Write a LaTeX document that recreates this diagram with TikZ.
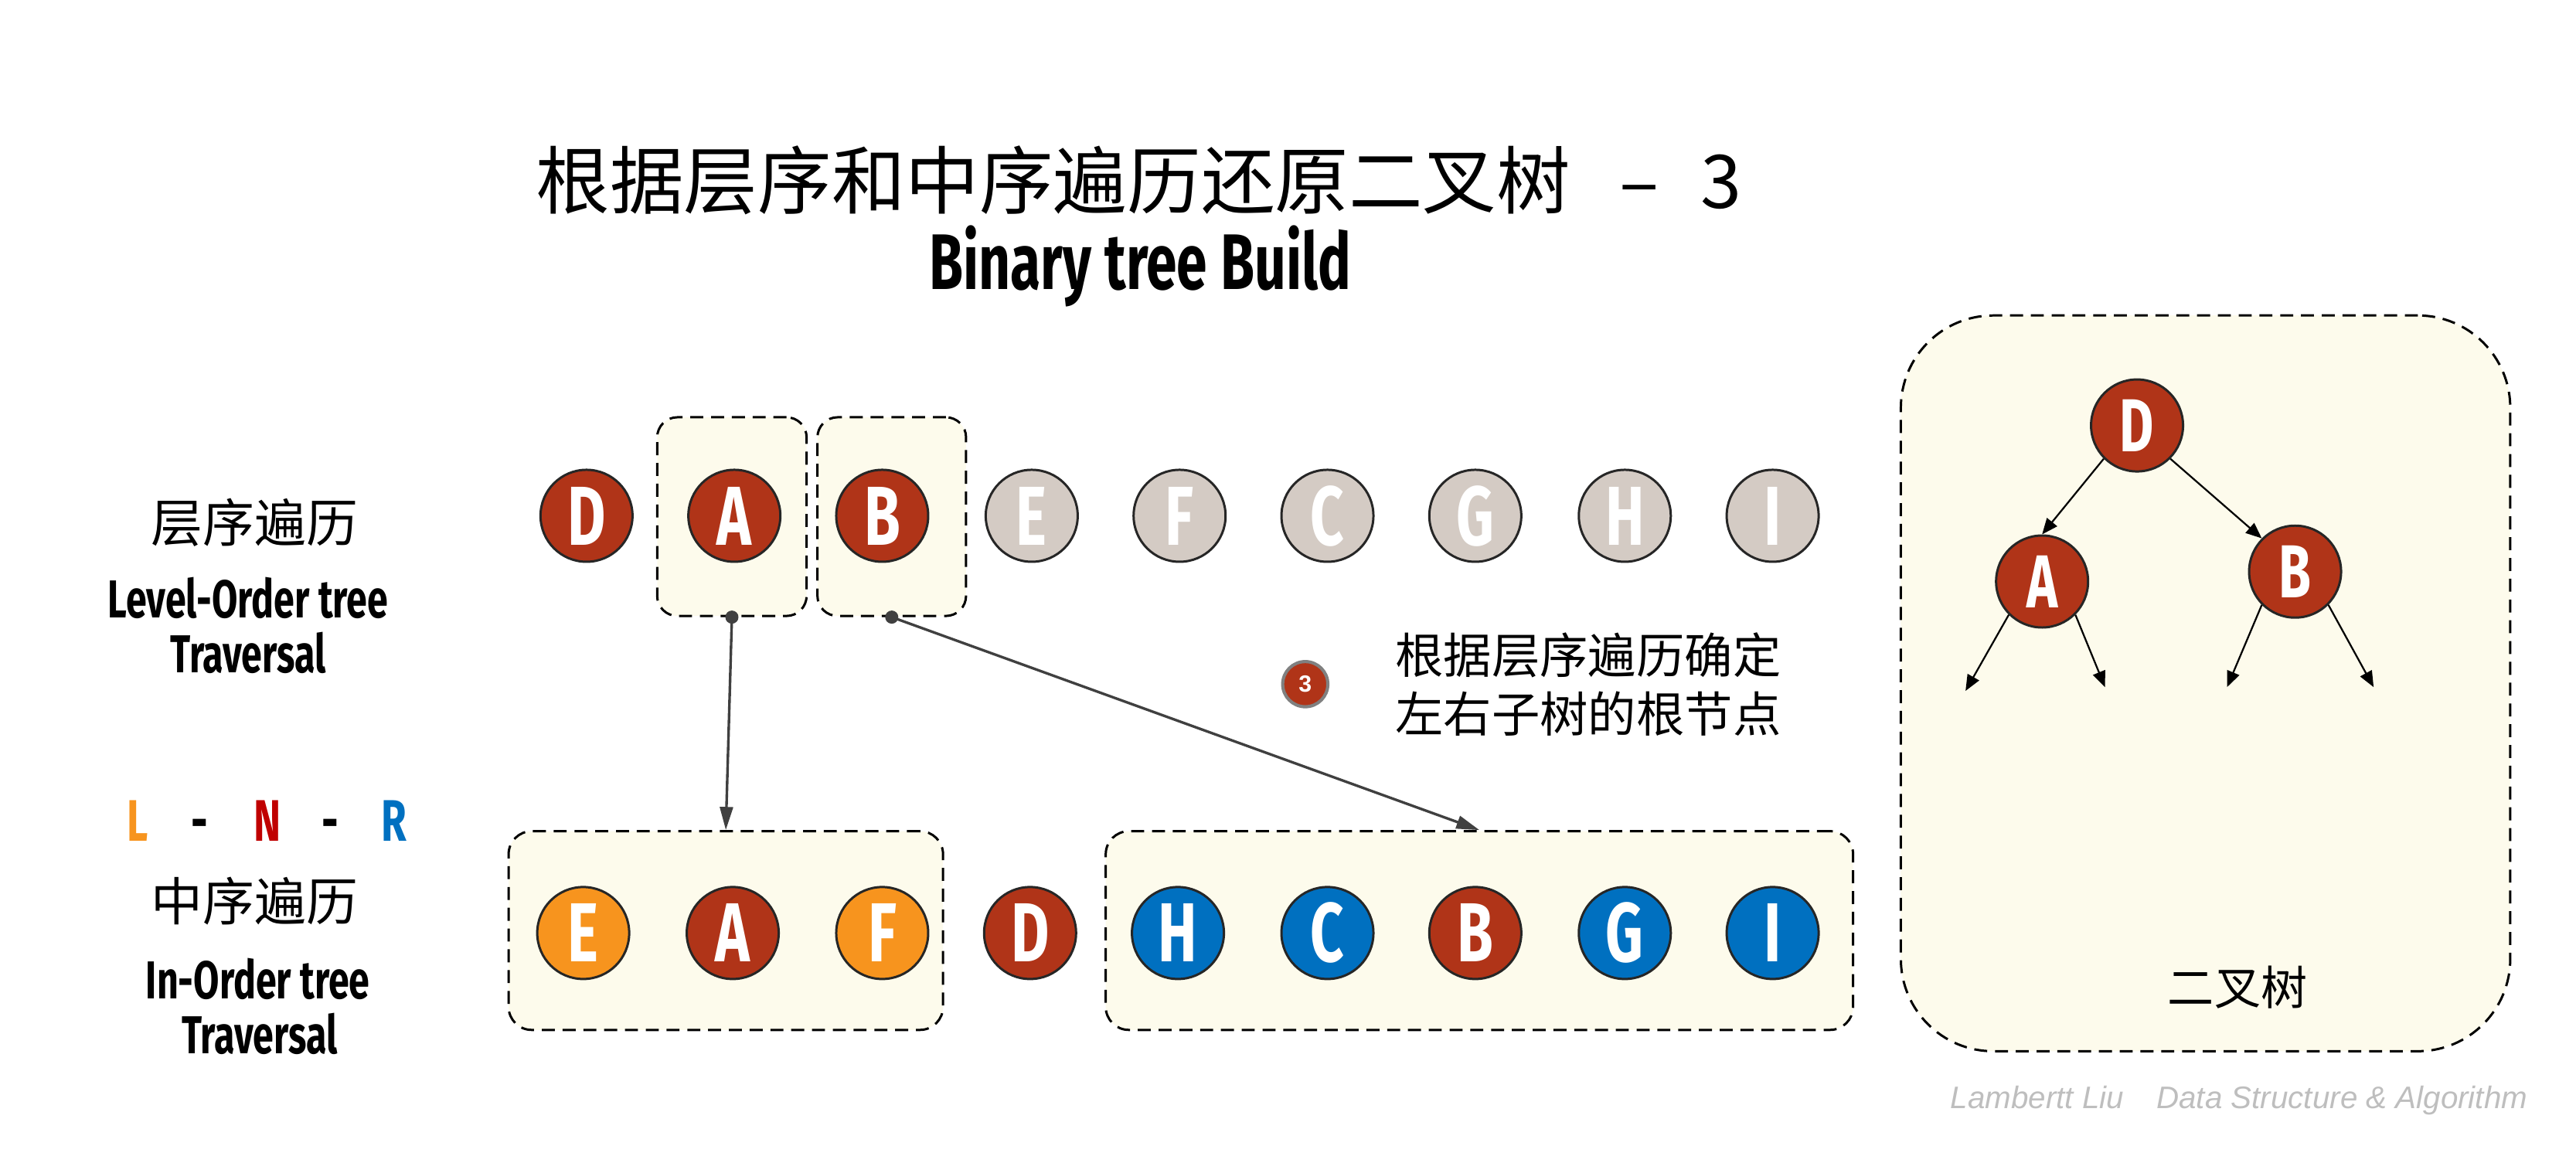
\documentclass[tikz,border=0pt]{standalone}
\usepackage{fontspec}
\usetikzlibrary{arrows.meta}
\newfontfamily\cjk{Noto Sans CJK SC}
\newfontfamily\condfont[FakeStretch=0.7]{Fira Sans}
\newfontfamily\markfont{Liberation Sans}
\definecolor{nodered}{RGB}{176,52,24}
\definecolor{nodegrey}{RGB}{212,203,196}
\definecolor{nodeorange}{RGB}{247,148,30}
\definecolor{nodeblue}{RGB}{0,112,192}
\definecolor{ballline}{RGB}{38,38,38}
\definecolor{cream}{RGB}{253,251,236}
\definecolor{connector}{RGB}{64,64,64}
\definecolor{markgrey}{RGB}{190,190,190}
\definecolor{lnrred}{RGB}{192,0,0}
\begin{document}
\begin{tikzpicture}[x=0.02cm,y=-0.02cm,
  ball/.style={circle, draw=ballline, line width=0.8pt, minimum size=1.12cm, inner sep=0pt,
    text=white, font=\condfont\bfseries\fontsize{29}{29}\selectfont},
  redball/.style={ball, fill=nodered},
  greyball/.style={ball, fill=nodegrey},
  orangeball/.style={ball, fill=nodeorange},
  blueball/.style={ball, fill=nodeblue},
  treeball/.style={redball, font=\condfont\bfseries\fontsize{26}{26}\selectfont},
  grpbox/.style={draw=black, fill=cream, line width=0.8pt, dash pattern=on 4.5pt off 2.7pt,
    inner sep=0pt, rounded corners=7pt},
  conn/.style={draw=connector, line width=0.9pt, -{Triangle[length=8pt,width=4.5pt]}},
  tedge/.style={draw=black, line width=0.6pt, -{Triangle[length=5.5pt,width=4.5pt]}},
  cjklabel/.style={font=\cjk\fontsize{17.9}{20}\selectfont, inner sep=0pt},
  condlabel/.style={font=\condfont\bfseries\fontsize{18.5}{20}\selectfont, inner sep=0pt, anchor=base},
  lnrlabel/.style={condlabel, font=\condfont\bfseries\fontsize{20.3}{22}\selectfont},
]
\useasboundingbox (0,0) rectangle (1568,708);

% titles
\node[font=\cjk\fontsize{25.6}{28}\selectfont, anchor=west, inner sep=0pt] (title) at (326,110)
  {根据层序和中序遍历还原二叉树\hspace{0.6cm}–\hspace{0.5cm}3};
\node[font=\condfont\bfseries\fontsize{27.3}{30}\selectfont, anchor=base, inner sep=0pt] (subtitle) at (694,176)
  {Binary tree Build};

% row captions
\node[cjklabel] (lvlcn) at (155,318) {层序遍历};
\node[condlabel] (lvlen1) at (151,376) {Level-Order tree};
\node[condlabel] (lvlen2) at (151,409.5) {Traversal};
\node[lnrlabel, text=nodeorange] (lnrL) at (84,512) {L};
\node[lnrlabel] (lnrd1) at (121.5,512) {-};
\node[lnrlabel, text=lnrred] (lnrN) at (162.7,512) {N};
\node[lnrlabel] (lnrd2) at (200.8,512) {-};
\node[lnrlabel, text=nodeblue] (lnrR) at (240,512) {R};
\node[cjklabel] (incn) at (155,548.5) {中序遍历};
\node[condlabel] (inen1) at (157,608) {In-Order tree};
\node[condlabel] (inen2) at (158,641.4) {Traversal};

% group boxes
\node[grpbox, minimum width=1.82cm, minimum height=2.42cm] (abox) at (445.5,314.5) {};
\node[grpbox, minimum width=1.81cm, minimum height=2.42cm] (bbox) at (542.8,314.5) {};
\node[grpbox, minimum width=5.29cm, minimum height=2.42cm, rounded corners=8pt] (lbox) at (441.8,566.5) {};
\node[grpbox, minimum width=9.10cm, minimum height=2.42cm, rounded corners=8pt] (rbox) at (900.5,566.5) {};
\node[grpbox, minimum width=7.42cm, minimum height=8.96cm, rounded corners=32pt] (treebox) at (1342.5,416) {};

% level-order sequence
\foreach \n/\x/\s in {D/357/redball, A/447/redball, B/537/redball, E/628/greyball, F/718/greyball,
                      C/808/greyball, G/898/greyball, H/989/greyball, I/1079/greyball}
  \node[\s] (l\n) at (\x,314) {\n};

% in-order sequence
\foreach \n/\x/\s in {E/355/orangeball, A/446/redball, F/537/orangeball, D/627/redball, H/717/blueball,
                      C/808/blueball, B/898/redball, G/989/blueball, I/1079/blueball}
  \node[\s] (i\n) at (\x,568) {\n};

% subtree roots point into the in-order halves
\draw[conn] (abox.south) -- (lbox.north);
\draw[conn] (bbox.south) -- (rbox.north);
\fill[connector] (abox.south) circle[radius=4];
\fill[connector] (bbox.south) circle[radius=4];

% step note
\node[circle, fill=nodered, draw=gray, line width=1.1pt, minimum size=0.55cm, inner sep=0pt,
  text=white, font=\markfont\bfseries\fontsize{8.1}{9}\selectfont] (step) at (794.5,416.5) {3};
\node[font=\cjk\fontsize{16.7}{20}\selectfont, anchor=west, inner sep=0pt] (note1) at (849,399) {根据层序遍历确定};
\node[font=\cjk\fontsize{16.7}{20}\selectfont, anchor=west, inner sep=0pt] (note2) at (849,434.5) {左右子树的根节点};

% partial binary tree
\node[treeball] (tD) at (1300.8,259) {D};
\node[treeball] (tA) at (1243,354) {A};
\node[treeball] (tB) at (1397,348) {B};
\coordinate (aL) at (1196.4,420.6);
\coordinate (aR) at (1281.3,418.3);
\coordinate (bL) at (1355.6,418.3);
\coordinate (bR) at (1444.8,418.3);
\draw[tedge] (tD.south west) -- (tA.north);
\draw[tedge] (tD.south east) -- (tB.north west);
\draw[tedge] (tA.south west) -- (aL);
\draw[tedge] (tA.south east) -- (aR);
\draw[tedge] (tB.south west) -- (bL);
\draw[tedge] (tB.south east) -- (bR);
\node[font=\cjk\fontsize{16.1}{18}\selectfont, inner sep=0pt] (treecap) at (1362,601) {二叉树};

% signature
\node[font=\markfont\itshape\fontsize{10.8}{12}\selectfont, text=markgrey, anchor=base west, inner sep=0pt] (sig)
  at (1187,675) {Lambertt Liu\hspace{1.05em}Data Structure \& Algorithm};
\end{tikzpicture}
\end{document}
